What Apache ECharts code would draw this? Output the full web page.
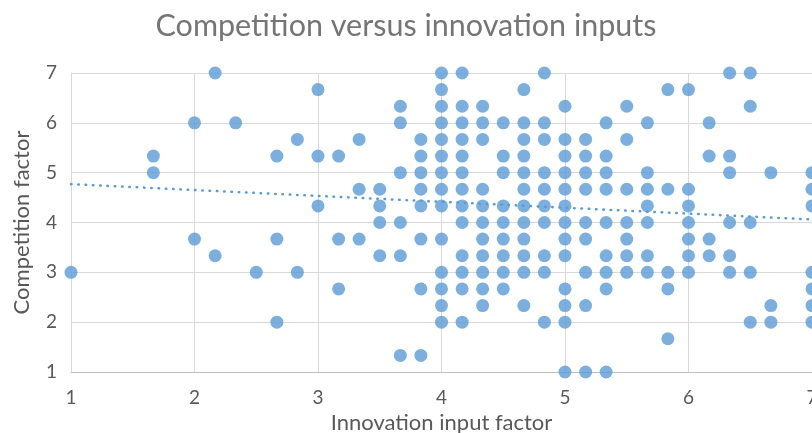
<!DOCTYPE html>
<html>
<head>
    <meta charset="utf-8">
    <title>Competition versus innovation inputs</title>
    <script src="https://cdn.jsdelivr.net/npm/echarts@6/dist/echarts.min.js"></script>
    <style type="text/css">
        * {
            margin: 0px;
            padding: 0px;
        }

        #main {
            width: 812px;
            height: 433px;
            background: #ffffff;
        }
    </style>
</head>
<body>
<div id="main"></div>
<script type="text/javascript">
    // x positions of the point columns (innovation input factor)
    var xValues = [1, 1.667, 2, 2.167, 2.333, 2.5, 2.667, 2.833, 3, 3.167, 3.333, 3.5, 3.667, 3.833,
        4, 4.167, 4.333, 4.5, 4.667, 4.833, 5, 5.167, 5.333, 5.5, 5.667, 5.833, 6, 6.167,
        6.333, 6.5, 6.667, 7];

    // competition factor values found in each column, same order as xValues
    var yColumns = [
        [3],
        [5.333, 5],
        [6, 3.667],
        [7, 3.333],
        [6],
        [3],
        [5.333, 3.667, 2],
        [5.667, 3],
        [6.667, 5.333, 4.333],
        [5.333, 3.667, 2.667],
        [5.667, 4.667, 3.667],
        [4.667, 4.333, 4, 3.333],
        [6.333, 6, 5, 4, 3.333, 1.333],
        [5.667, 5.333, 5, 4.667, 4.333, 3.667, 2.667, 1.333],
        [7, 6.667, 6.333, 6, 5.667, 5.333, 5, 4.667, 4.333, 3.667, 3, 2.667, 2.333, 2],
        [7, 6.333, 6, 5.667, 5.333, 5, 4.667, 4.333, 4, 3.333, 3, 2.667, 2],
        [6.333, 6, 5.667, 4.667, 4.333, 4, 3.667, 3.333, 3, 2.667, 2.333],
        [6, 5.333, 5, 4.333, 4, 3.667, 3.333, 3, 2.667],
        [6.667, 6, 5.667, 5.333, 5, 4.667, 4.333, 4, 3.667, 3.333, 3, 2.333],
        [7, 6, 5.667, 5, 4.667, 4.333, 4, 3.333, 3, 2],
        [6.333, 5.667, 5.333, 5, 4.667, 4.333, 4, 3.667, 3.333, 2.667, 2.333, 2, 1],
        [5.667, 5.333, 5, 4.667, 4, 3.667, 3, 2.333, 1],
        [6, 5.333, 5, 4.667, 4, 3.333, 3, 2.667, 1],
        [6.333, 5.667, 4.667, 4, 3.667, 3.333, 3],
        [6, 5, 4.667, 4.333, 4, 3.333, 3],
        [6.667, 4.667, 3, 2.667, 1.667],
        [6.667, 4.667, 4.333, 4, 3.667, 3.333, 3],
        [6, 5.333, 3.667, 3.333],
        [7, 5.333, 5, 4, 3.333, 3],
        [7, 6.333, 4, 3, 2],
        [5, 2.333, 2],
        [5, 4.667, 4.333, 3, 2.667, 2.333, 2]
    ];

    // linear trendline, end points
    var trendX = [1, 7];
    var trendY = [4.77, 4.06];

    var points = [];
    for (var i = 0; i < xValues.length; i++) {
        for (var j = 0; j < yColumns[i].length; j++) {
            points.push([xValues[i], yColumns[i][j]]);
        }
    }
    var trend = [];
    for (var k = 0; k < trendX.length; k++) {
        trend.push([trendX[k], trendY[k]]);
    }

    var myChart = echarts.init(document.getElementById('main'));

    var labelFont = 'Lato';
    var option = {
        animation: false,
        title: {
            text: 'Competition versus innovation inputs',
            left: 'center',
            top: 6,
            textStyle: {
                color: '#757575',
                fontFamily: labelFont,
                fontWeight: 'normal',
                fontSize: 30.5
            }
        },
        grid: {
            left: 71,
            right: 0,
            top: 73,
            bottom: 61,
            outerBoundsMode: 'none'
        },
        xAxis: {
            type: 'value',
            min: 1,
            max: 7,
            interval: 1,
            name: 'Innovation input factor',
            nameLocation: 'middle',
            nameGap: 24,
            nameTextStyle: {
                color: '#595959',
                fontFamily: labelFont,
                fontSize: 22
            },
            axisLine: {show: true, lineStyle: {color: '#BFBFBF', width: 1}},
            axisTick: {show: false},
            axisLabel: {
                color: '#595959',
                fontFamily: labelFont,
                fontSize: 19,
                margin: 16
            },
            splitLine: {show: true, lineStyle: {color: '#D9D9D9', width: 1}}
        },
        yAxis: {
            type: 'value',
            min: 1,
            max: 7,
            interval: 1,
            name: 'Competition factor',
            nameLocation: 'middle',
            nameGap: 38,
            nameTextStyle: {
                color: '#595959',
                fontFamily: labelFont,
                fontSize: 22
            },
            axisLine: {show: true, lineStyle: {color: '#D9D9D9', width: 1}},
            axisTick: {show: false},
            axisLabel: {
                color: '#595959',
                fontFamily: labelFont,
                fontSize: 19,
                margin: 14
            },
            splitLine: {show: true, lineStyle: {color: '#D9D9D9', width: 1}}
        },
        series: [{
            name: 'Competition',
            type: 'scatter',
            symbol: 'circle',
            symbolSize: 13,
            itemStyle: {color: '#5B9BD5'},
            data: points
        }, {
            name: 'Trend',
            type: 'line',
            showSymbol: false,
            z: 3,
            lineStyle: {
                color: '#5B9BD5',
                width: 2.5,
                type: [0.5, 6.8],
                cap: 'round'
            },
            data: trend
        }]
    };

    myChart.setOption(option);
</script>
</body>
</html>
